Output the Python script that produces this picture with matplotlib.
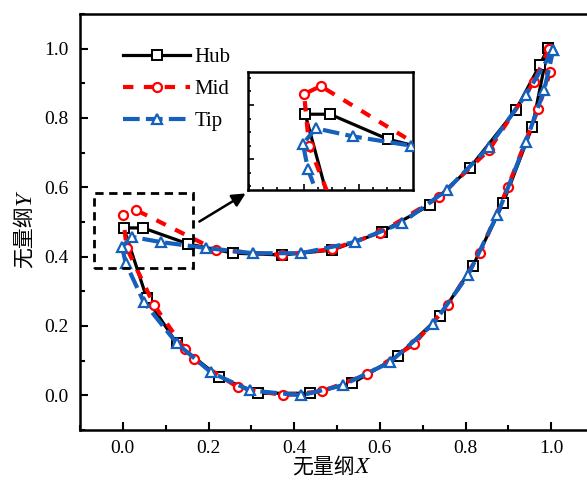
import matplotlib
matplotlib.use('Agg')
import matplotlib.pyplot as plt
from matplotlib.patches import Rectangle
from matplotlib.ticker import MultipleLocator, AutoMinorLocator

plt.rcParams['font.family'] = ['Liberation Serif', 'Noto Sans CJK SC']

# blade profiles, trailing edge -> upper side -> leading edge -> lower side -> trailing edge
hub_x = [0.993, 0.974, 0.918, 0.810, 0.717, 0.604, 0.489, 0.372, 0.258, 0.152, 0.047, 0.002,
         0.056, 0.126, 0.225, 0.316, 0.438, 0.536, 0.642, 0.740, 0.817, 0.888, 0.956, 0.993]
hub_y = [1.003, 0.954, 0.824, 0.656, 0.549, 0.471, 0.419, 0.405, 0.410, 0.437, 0.483, 0.483,
         0.280, 0.150, 0.052, 0.006, 0.006, 0.035, 0.113, 0.228, 0.373, 0.555, 0.775, 1.003]

mid_x = [0.995, 0.960, 0.855, 0.738, 0.600, 0.489, 0.372, 0.218, 0.030, 0.000, 0.009, 0.073,
         0.145, 0.166, 0.269, 0.375, 0.466, 0.571, 0.679, 0.759, 0.834, 0.899, 0.970, 0.998, 0.995]
mid_y = [1.000, 0.905, 0.708, 0.572, 0.468, 0.422, 0.405, 0.419, 0.535, 0.520, 0.425, 0.260,
         0.133, 0.104, 0.023, 0.000, 0.012, 0.061, 0.147, 0.260, 0.410, 0.601, 0.827, 0.934, 1.000]

tip_x = [1.005, 0.941, 0.855, 0.756, 0.651, 0.541, 0.417, 0.304, 0.194, 0.089, 0.021, -0.002,
         0.007, 0.049, 0.126, 0.206, 0.297, 0.417, 0.513, 0.623, 0.724, 0.806, 0.874, 0.941,
         0.984, 1.005]
tip_y = [0.997, 0.867, 0.717, 0.592, 0.497, 0.442, 0.410, 0.410, 0.425, 0.442, 0.457, 0.428,
         0.381, 0.269, 0.150, 0.066, 0.014, 0.000, 0.029, 0.095, 0.205, 0.347, 0.520, 0.731,
         0.882, 0.997]

labels = ['Hub', 'Mid', 'Tip']
BLUE = '#1560bd'


def draw_series(ax, ms):
    ax.plot(hub_x, hub_y, color='black', lw=2.3, marker='s', ms=ms, mfc='white',
            mec='black', mew=1.4, label=labels[0], zorder=3)
    ax.plot(mid_x, mid_y, color='red', lw=3.0, ls=(0, (2.5, 2.5)), marker='o', ms=ms,
            mfc='white', mec='red', mew=1.6, label=labels[1], zorder=4)
    ax.plot(tip_x, tip_y, color=BLUE, lw=3.0, ls=(0, (4, 1.5)), marker='^', ms=ms + 1,
            mfc='white', mec=BLUE, mew=1.6, label=labels[2], zorder=5)


fig = plt.figure(figsize=(5.87, 4.86), dpi=100)
ax = fig.add_axes([80 / 587, 1 - 430 / 486, 514 / 587, 416 / 486])
draw_series(ax, 6.5)

ax.set_xlim(-0.1, 1.1)
ax.set_ylim(-0.1, 1.1)
ax.xaxis.set_major_locator(MultipleLocator(0.2))
ax.yaxis.set_major_locator(MultipleLocator(0.2))
ax.xaxis.set_minor_locator(AutoMinorLocator(2))
ax.yaxis.set_minor_locator(AutoMinorLocator(2))
ax.tick_params(which='both', direction='in', top=False, right=False, width=1.5, labelsize=14)
ax.tick_params(which='major', length=6)
ax.tick_params(which='minor', length=3.5)
ax.tick_params(axis='y', pad=8)
ax.tick_params(axis='x', pad=7)
for sp in ax.spines.values():
    sp.set_linewidth(1.8)

# axis titles: Chinese part + italic letter
ax.text(0.535, -0.089, '无量纲', family='Noto Sans CJK SC', fontsize=15,
        ha='right', va='center', transform=ax.transAxes)
ax.text(0.535, -0.089, 'X', family='Liberation Serif', style='italic', fontsize=17,
        ha='left', va='center', transform=ax.transAxes)
ax.text(-0.107, 0.541, '无量纲', family='Noto Sans CJK SC', fontsize=15, rotation=90,
        ha='center', va='top', transform=ax.transAxes)
ax.text(-0.107, 0.541, 'Y', family='Liberation Serif', style='italic', fontsize=17,
        rotation=90, ha='center', va='bottom', transform=ax.transAxes)

leg = ax.legend(loc='upper left', bbox_to_anchor=(0.06, 0.95), frameon=False, fontsize=15,
                handlelength=3.2, handletextpad=0.2, labelspacing=0.6, borderaxespad=0.2)

# dashed zoom box and arrow to the inset
ax.add_patch(Rectangle((-0.068, 0.367), 0.232, 0.217, fill=False, ec='black', lw=2,
                       ls=(0, (3, 2)), zorder=6))
ax.annotate('', xy=(248, 486 - 192), xycoords='figure pixels',
            xytext=(197, 486 - 223), textcoords='figure pixels',
            arrowprops=dict(arrowstyle='-|>', color='black', lw=1.8, mutation_scale=20))

# inset
axin = fig.add_axes([248 / 587, 1 - 190 / 486, 165 / 587, 118 / 486])
draw_series(axin, 6.5)
axin.set_xlim(-0.102, 0.198)
axin.set_ylim(0.343, 0.561)
axin.xaxis.set_major_locator(MultipleLocator(0.1))
axin.yaxis.set_major_locator(MultipleLocator(0.1))
axin.xaxis.set_minor_locator(AutoMinorLocator(4))
axin.yaxis.set_minor_locator(AutoMinorLocator(4))
axin.tick_params(which='both', direction='in', top=False, right=False, width=1.2,
                 labelbottom=False, labelleft=False)
axin.tick_params(which='major', length=4)
axin.tick_params(which='minor', length=2.5)
for sp in axin.spines.values():
    sp.set_linewidth(1.8)

fig.savefig('out.png', dpi=100)
